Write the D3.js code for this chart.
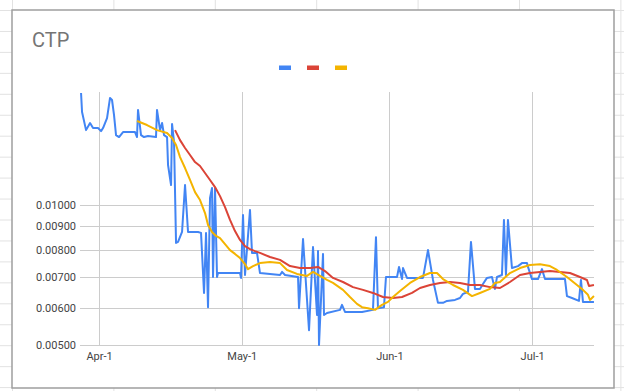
<!DOCTYPE html>
<html><head><meta charset="utf-8">
<script src="https://cdn.jsdelivr.net/npm/d3@7"></script>
<style>body{margin:0;background:#fff}svg{display:block}</style>
</head><body>
<svg id="c" width="624" height="391"></svg>
<script>
const title = "CTP";
const seriesColors = ["#4285F4", "#DB4437", "#F4B400"];
const yTicks = [0.005, 0.006, 0.007, 0.008, 0.009, 0.01];
const xTickDates = ["2021-04-01", "2021-05-01", "2021-06-01", "2021-07-01"];
const xDomain = ["2021-03-28", "2021-07-14"];
// days offset from Apr-1
const blueDay = [-3.78,-3.57,-2.73,-1.89,-1.26,-0.21,0.42,0.84,1.68,2.31,2.73,3.15,3.57,4.20,5.04,7.56,7.98,8.19,8.82,9.45,10.29,11.97,12.18,12.82,13.24,13.66,14.29,14.50,15.13,15.34,15.76,16.18,16.60,17.44,18.07,18.70,20.80,21.43,22.06,22.48,22.90,23.32,23.74,23.95,24.37,24.79,25.00,29.62,29.83,30.25,30.67,31.72,32.14,33.19,33.82,38.03,38.45,39.08,41.81,42.02,42.86,44.12,44.96,45.80,46.01,46.22,47.06,47.27,47.90,50.63,51.05,51.68,55.25,57.56,58.19,58.61,59.87,60.29,62.61,63.03,63.66,63.87,64.71,68.07,69.12,70.17,71.22,72.27,73.11,74.79,75.84,76.47,77.52,78.15,78.99,80.04,80.67,81.51,82.56,83.19,83.61,84.66,85.08,85.50,85.92,86.76,88.03,88.87,89.92,90.13,90.97,92.23,93.07,93.70,97.90,98.32,99.37,100.84,101.26,101.68,103.99];
const blueVal = [0.01741,0.01585,0.01449,0.01501,0.01464,0.01464,0.01442,0.01464,0.01538,0.01699,0.01682,0.01561,0.01414,0.01400,0.01435,0.01435,0.01400,0.01601,0.01414,0.01400,0.01407,0.01400,0.01601,0.01449,0.01501,0.01414,0.01400,0.01219,0.01104,0.01494,0.01366,0.00829,0.00833,0.00875,0.01104,0.00875,0.00875,0.00871,0.00647,0.00871,0.00603,0.01035,0.01088,0.00700,0.01088,0.00700,0.00714,0.00714,0.00697,0.00952,0.00707,0.00976,0.00789,0.00789,0.00714,0.00707,0.00718,0.00707,0.00700,0.00600,0.00845,0.00538,0.00812,0.00580,0.00796,0.00500,0.00785,0.00580,0.00586,0.00595,0.00610,0.00589,0.00589,0.00595,0.00853,0.00600,0.00603,0.00700,0.00700,0.00736,0.00693,0.00732,0.00697,0.00697,0.00800,0.00690,0.00616,0.00616,0.00622,0.00625,0.00631,0.00644,0.00650,0.00833,0.00660,0.00660,0.00676,0.00697,0.00700,0.00660,0.00700,0.00707,0.00929,0.00707,0.00929,0.00732,0.00739,0.00750,0.00750,0.00736,0.00693,0.00693,0.00728,0.00693,0.00693,0.00637,0.00631,0.00622,0.00690,0.00619,0.00619];
const redDay = [15.97,17.02,18.07,19.12,20.17,21.22,22.27,23.32,24.37,25.42,26.47,27.52,28.57,29.62,30.67,31.72,32.77,33.82,35.92,38.03,40.13,42.23,44.33,46.01,47.48,49.16,51.26,53.36,55.46,57.56,59.66,61.76,63.66,65.76,67.44,69.54,71.64,73.74,75.84,77.94,80.04,82.14,84.24,86.34,88.45,90.55,92.65,94.75,96.85,98.95,101.05,102.52,102.94,103.99];
const redVal = [0.01449,0.01379,0.01326,0.01281,0.01237,0.01213,0.01172,0.01132,0.01093,0.01045,0.00990,0.00929,0.00879,0.00841,0.00816,0.00804,0.00796,0.00789,0.00773,0.00762,0.00739,0.00732,0.00732,0.00736,0.00721,0.00697,0.00683,0.00666,0.00657,0.00647,0.00634,0.00631,0.00634,0.00647,0.00663,0.00673,0.00680,0.00683,0.00680,0.00673,0.00673,0.00666,0.00663,0.00683,0.00707,0.00714,0.00718,0.00721,0.00718,0.00714,0.00700,0.00690,0.00670,0.00673];
const yellowDay = [7.98,10.08,12.18,14.29,15.34,16.18,17.02,18.07,19.12,20.17,21.22,22.27,22.90,23.74,24.58,25.42,26.47,27.52,28.57,29.62,30.67,31.30,32.35,33.82,35.92,38.03,39.50,41.60,43.70,44.96,46.43,47.90,49.16,51.26,52.73,54.20,55.25,56.51,57.98,59.45,60.71,61.76,63.24,65.34,67.44,69.54,71.01,72.27,74.37,76.47,78.36,80.04,82.14,83.19,84.24,86.34,88.45,90.55,92.65,94.75,96.22,98.32,100.42,101.68,102.73,103.15,103.99];
const yellowVal = [0.01516,0.01486,0.01449,0.01428,0.01393,0.01346,0.01268,0.01201,0.01132,0.01066,0.01025,0.00961,0.00906,0.00875,0.00858,0.00849,0.00824,0.00800,0.00785,0.00769,0.00746,0.00728,0.00739,0.00750,0.00754,0.00750,0.00725,0.00711,0.00704,0.00718,0.00704,0.00690,0.00680,0.00657,0.00634,0.00613,0.00603,0.00600,0.00595,0.00610,0.00619,0.00634,0.00653,0.00680,0.00700,0.00714,0.00714,0.00693,0.00673,0.00657,0.00637,0.00647,0.00660,0.00680,0.00683,0.00714,0.00732,0.00743,0.00746,0.00739,0.00725,0.00700,0.00673,0.00657,0.00641,0.00625,0.00637];

const svg = d3.select("#c");
const W = 624, H = 391;
const font = "Roboto, Arial, sans-serif";

// spreadsheet background grid
const bg = svg.append("g");
for (let x = 12.5; x < W; x += 101.4) bg.append("line").attr("x1", x).attr("x2", x).attr("y1", 0).attr("y2", H).attr("stroke", "#e2e2e2");
for (let y = 10.5; y < H; y += 20.95) bg.append("line").attr("x1", 0).attr("x2", W).attr("y1", y).attr("y2", y).attr("stroke", "#e2e2e2");

// chart box
svg.append("rect").attr("x", 12).attr("y", 10).attr("width", 602).attr("height", 378)
  .attr("fill", "#fff").attr("stroke", "#9e9e9e").attr("stroke-width", 1.5);

svg.append("text").attr("x", 32).attr("y", 47).text(title)
  .attr("font-family", font).attr("font-size", 20).attr("fill", "#757575");

// legend
const legX = [279, 307, 335];
seriesColors.forEach((c, i) => svg.append("rect").attr("x", legX[i]).attr("y", 65.5).attr("width", 12).attr("height", 4.5).attr("fill", c));

const parse = d3.utcParse("%Y-%m-%d");
const apr1 = parse("2021-04-01");
const toDate = d => new Date(apr1.getTime() + d * 864e5);
const x = d3.scaleUtc().domain(xDomain.map(parse)).range([80, 594]);
const y = d3.scaleLog().domain([0.005, 0.0175]).range([345, 92]);

// gridlines
const grid = svg.append("g");
yTicks.forEach(t => grid.append("line").attr("x1", 80).attr("x2", 594).attr("y1", Math.round(y(t)) + 0.5).attr("y2", Math.round(y(t)) + 0.5).attr("stroke", "#cccccc"));
xTickDates.map(parse).forEach(t => grid.append("line").attr("x1", Math.round(x(t)) + 0.5).attr("x2", Math.round(x(t)) + 0.5).attr("y1", 92).attr("y2", 345).attr("stroke", "#cccccc"));

// axes
const yAxis = svg.append("g").attr("transform", "translate(76,0)")
  .call(d3.axisLeft(y).tickValues(yTicks).tickFormat(d3.format(".5f")).tickSize(0).tickPadding(0));
const xAxis = svg.append("g").attr("transform", "translate(0,349)")
  .call(d3.axisBottom(x).tickValues(xTickDates.map(parse)).tickFormat(d3.utcFormat("%b-%-d")).tickSize(0).tickPadding(3));
[yAxis, xAxis].forEach(a => {
  a.select(".domain").remove();
  a.selectAll("text").attr("font-family", font).attr("font-size", 11).attr("fill", "#444");
});

const line = d3.line().x(d => x(toDate(d[0]))).y(d => y(d[1]));
const series = [[blueDay, blueVal], [redDay, redVal], [yellowDay, yellowVal]];
series.forEach(([ds, vs], i) => {
  svg.append("path").datum(ds.map((d, k) => [d, vs[k]]))
    .attr("d", line).attr("fill", "none").attr("stroke", seriesColors[i])
    .attr("stroke-width", 2).attr("stroke-linejoin", "round");
});
</script>
</body></html>
